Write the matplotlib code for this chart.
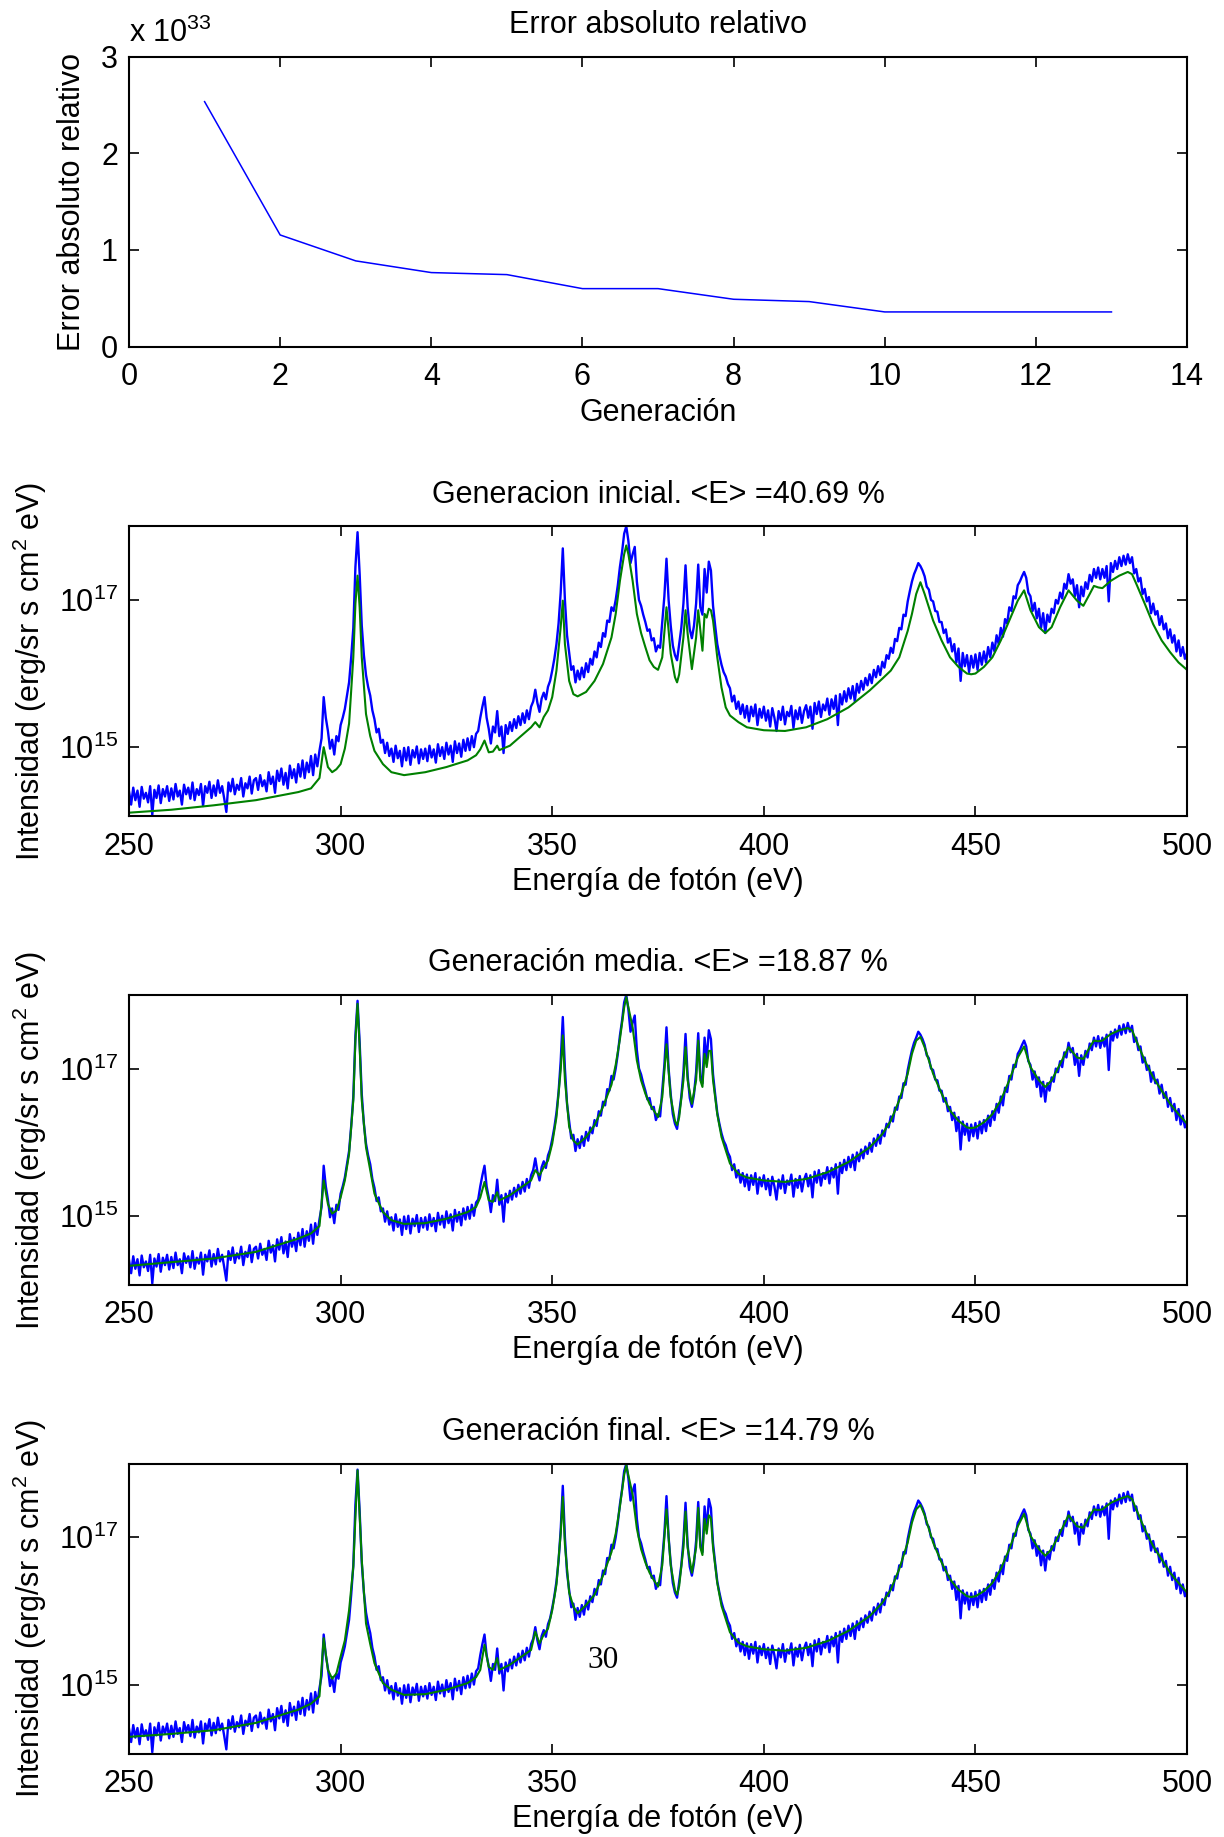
import numpy as np
import matplotlib
matplotlib.use('Agg')
import matplotlib.pyplot as plt
from matplotlib.ticker import NullLocator

plt.rcParams['font.family'] = ['Liberation Sans', 'DejaVu Sans']
plt.rcParams['mathtext.fontset'] = 'custom'
plt.rcParams['mathtext.rm'] = 'Liberation Sans'
plt.rcParams['mathtext.default'] = 'regular'
plt.rcParams['font.size'] = 22

# --- panel superior: error por generacion (en unidades de 1e33) ---
generaciones = list(range(1, 14))
error_rel = [2.534, 1.155, 0.887, 0.766, 0.745, 0.600, 0.600,
             0.490, 0.466, 0.359, 0.359, 0.359, 0.359]

# --- espectro observado, log10(I), paso 0.5 eV de 250 a 500 eV ---
e_obs = np.arange(250, 500.25, 0.5)
log_obs = [
    14.40, 14.22, 14.45, 14.28, 14.41, 14.19, 14.46, 14.30, 14.38, 14.25,
    14.47, 14.08, 14.42, 14.31, 14.48, 14.24, 14.43, 14.33, 14.47, 14.27,
    14.44, 14.29, 14.50, 14.33, 14.41, 14.22, 14.49, 14.36, 14.45, 14.30,
    14.52, 14.28, 14.43, 14.35, 14.50, 14.20, 14.47, 14.38, 14.53, 14.31,
    14.48, 14.34, 14.55, 14.38, 14.47, 14.30, 14.12, 14.52, 14.40, 14.57,
    14.36, 14.49, 14.42, 14.58, 14.33, 14.51, 14.44, 14.60, 14.37, 14.55,
    14.58, 14.42, 14.62, 14.47, 14.55, 14.40, 14.66, 14.50, 14.60, 14.38,
    14.68, 14.54, 14.71, 14.49, 14.65, 14.44, 14.75, 14.58, 14.70, 14.52,
    14.77, 14.60, 14.82, 14.58, 14.79, 14.66, 14.88, 14.62, 14.90, 14.74,
    14.95, 15.12, 15.68, 15.40, 15.22, 14.98, 15.10, 14.90, 15.15, 15.08,
    15.30, 15.40, 15.52, 15.70, 15.88, 16.22, 16.62, 17.45, 17.92, 17.35,
    16.65, 16.25, 15.98, 15.82, 15.70, 15.50, 15.38, 15.20, 15.25, 15.06,
    15.10, 14.92, 15.06, 14.88, 14.98, 14.80, 15.02, 14.85, 14.95, 14.74,
    14.99, 14.82, 15.00, 14.76, 14.96, 14.86, 15.01, 14.78, 14.97, 14.84,
    14.98, 14.81, 15.02, 14.86, 14.97, 14.79, 15.04, 14.88, 15.00, 14.84,
    15.06, 14.90, 15.02, 14.80, 15.08, 14.92, 15.05, 14.87, 15.10, 14.95,
    15.12, 14.96, 15.15, 15.00, 15.18, 15.22, 15.40, 15.55, 15.68, 15.40,
    15.25, 15.05, 15.28, 15.20, 15.49, 15.15, 15.28, 14.92, 15.30, 15.18,
    15.34, 15.22, 15.38, 15.26, 15.42, 15.30, 15.46, 15.33, 15.50, 15.38,
    15.55, 15.62, 15.78, 15.60, 15.48, 15.66, 15.74, 15.65, 15.82, 15.90,
    16.04, 16.20, 16.40, 16.68, 17.10, 17.70, 17.00, 16.52, 16.28, 16.05,
    16.10, 15.88, 16.04, 15.92, 16.08, 15.95, 16.14, 16.02, 16.20, 16.12,
    16.30, 16.22, 16.42, 16.36, 16.55, 16.50, 16.72, 16.70, 16.90, 16.85,
    17.00, 17.20, 17.45, 17.65, 17.90, 18.00, 17.80, 17.50, 17.62, 17.72,
    17.25, 17.00, 16.92, 16.80, 16.70, 16.58, 16.60, 16.45, 16.48, 16.30,
    16.38, 16.35, 16.70, 17.05, 17.56, 17.00, 16.65, 16.38, 16.25, 16.18,
    16.40, 16.62, 16.95, 17.47, 16.90, 16.60, 16.48, 16.65, 16.95, 17.48,
    16.90, 16.80, 17.42, 17.10, 17.52, 17.40, 16.92, 16.65, 16.40, 16.25,
    16.12, 16.02, 15.96, 15.86, 15.80, 15.62, 15.70, 15.52, 15.62, 15.45,
    15.58, 15.40, 15.56, 15.35, 15.55, 15.42, 15.58, 15.30, 15.52, 15.40,
    15.55, 15.36, 15.50, 15.28, 15.53, 15.40, 15.22, 15.49, 15.37, 15.55,
    15.31, 15.48, 15.42, 15.56, 15.26, 15.50, 15.38, 15.54, 15.33, 15.49,
    15.57, 15.40, 15.55, 15.25, 15.60, 15.45, 15.62, 15.41, 15.58, 15.50,
    15.66, 15.44, 15.65, 15.52, 15.70, 15.30, 15.72, 15.58, 15.76, 15.62,
    15.80, 15.66, 15.83, 15.62, 15.86, 15.74, 15.90, 15.78, 15.94, 15.84,
    15.99, 15.87, 16.05, 15.95, 16.10, 15.98, 16.16, 16.08, 16.25, 16.20,
    16.35, 16.28, 16.47, 16.44, 16.62, 16.60, 16.80, 16.78, 16.98, 17.12,
    17.25, 17.35, 17.42, 17.50, 17.46, 17.40, 17.32, 17.18, 17.14, 17.00,
    16.98, 16.85, 16.84, 16.70, 16.70, 16.55, 16.60, 16.42, 16.48, 16.30,
    16.40, 16.15, 16.34, 15.90, 16.28, 16.10, 16.25, 16.02, 16.24, 16.08,
    16.26, 16.05, 16.28, 16.12, 16.30, 16.15, 16.36, 16.22, 16.42, 16.30,
    16.52, 16.40, 16.62, 16.50, 16.74, 16.68, 16.90, 16.85, 17.05, 17.02,
    17.20, 17.25, 17.32, 17.38, 17.30, 17.10, 17.05, 16.85, 16.96, 16.75,
    16.88, 16.62, 16.82, 16.55, 16.80, 16.70, 16.88, 16.82, 17.00, 16.95,
    17.10, 17.02, 17.22, 17.15, 17.35, 17.22, 17.28, 17.05, 17.20, 16.90,
    17.18, 17.05, 17.24, 17.15, 17.34, 17.25, 17.42, 17.30, 17.44, 17.28,
    17.42, 17.30, 17.46, 16.98, 17.50, 17.38, 17.53, 17.42, 17.58, 17.46,
    17.60, 17.48, 17.62, 17.50, 17.58, 17.36, 17.42, 17.25, 17.30, 17.08,
    17.15, 16.98, 17.04, 16.82, 16.95, 16.80, 16.85, 16.66, 16.78, 16.60,
    16.68, 16.48, 16.60, 16.42, 16.52, 16.30, 16.45, 16.24, 16.36, 16.20,
    16.28,
]

# --- espectros modelo (log10 I) en energias de control ---
e_mod = [
    250, 260, 270, 280, 290, 293, 295, 296, 297, 298,
    299, 300, 301, 302, 303, 303.5, 304, 304.5, 305, 306,
    307, 308, 310, 312, 315, 320, 325, 330, 332, 333,
    334, 335, 336, 337, 337.5, 340, 345, 346, 347, 348,
    349, 350, 351, 352, 352.5, 353, 354, 355, 356, 358,
    360, 362, 364, 365, 366, 367, 367.5, 368, 369, 370,
    371, 372, 373, 374, 375, 376, 377, 378, 379, 379.5,
    380, 381, 381.5, 382, 383, 384, 384.5, 385, 385.5, 386,
    386.5, 387, 387.5, 388, 389, 390, 391, 392, 394, 396,
    400, 405, 410, 415, 420, 425, 428, 430, 432, 434,
    435, 436, 437, 438, 440, 442, 444, 446, 448, 449,
    450, 452, 454, 456, 458, 460, 461.5, 463, 465, 466.5,
    468, 470, 472, 474, 475.5, 477, 478, 479, 480, 482,
    484, 486, 487, 488, 490, 492, 494, 496, 498, 500,
]
log_ini = [
    14.11, 14.15, 14.21, 14.28, 14.39, 14.44, 14.58, 15.00, 14.73, 14.66,
    14.70, 14.77, 14.98, 15.32, 16.22, 16.95, 17.33, 16.90, 16.22, 15.45,
    15.15, 14.95, 14.77, 14.66, 14.62, 14.66, 14.73, 14.82, 14.89, 14.97,
    15.09, 14.93, 14.94, 15.02, 14.96, 15.02, 15.27, 15.34, 15.27, 15.41,
    15.50, 15.68, 16.04, 16.63, 16.99, 16.40, 15.90, 15.72, 15.69, 15.75,
    15.90, 16.13, 16.49, 16.81, 17.26, 17.62, 17.74, 17.62, 17.26, 16.81,
    16.55, 16.36, 16.18, 16.09, 16.05, 16.22, 16.90, 16.27, 15.95, 15.88,
    15.99, 16.49, 16.86, 16.54, 16.06, 16.49, 16.86, 16.58, 16.31, 16.81,
    16.76, 16.88, 16.86, 16.72, 16.22, 15.81, 15.54, 15.43, 15.34, 15.27,
    15.23, 15.22, 15.27, 15.38, 15.54, 15.77, 15.93, 16.04, 16.22, 16.58,
    16.81, 17.08, 17.24, 17.08, 16.72, 16.45, 16.22, 16.09, 16.00, 15.99,
    16.00, 16.09, 16.22, 16.45, 16.72, 16.99, 17.13, 16.86, 16.63, 16.55,
    16.63, 16.90, 17.13, 16.99, 16.92, 17.08, 17.19, 17.17, 17.16, 17.26,
    17.33, 17.38, 17.35, 17.22, 16.95, 16.67, 16.45, 16.29, 16.15, 16.05,
]
log_med = [
    14.32, 14.37, 14.42, 14.51, 14.69, 14.76, 14.86, 15.48, 15.16, 15.03,
    15.07, 15.25, 15.48, 15.84, 16.57, 17.39, 17.88, 17.29, 16.57, 15.93,
    15.62, 15.30, 15.05, 14.94, 14.89, 14.90, 14.96, 15.05, 15.12, 15.25,
    15.46, 15.21, 15.19, 15.32, 15.21, 15.28, 15.48, 15.62, 15.55, 15.66,
    15.75, 15.98, 16.34, 16.98, 17.45, 16.85, 16.21, 16.02, 15.97, 16.07,
    16.23, 16.48, 16.78, 17.05, 17.40, 17.83, 17.97, 17.83, 17.56, 17.11,
    16.84, 16.66, 16.52, 16.43, 16.34, 16.61, 17.33, 16.61, 16.29, 16.23,
    16.34, 16.84, 17.29, 16.84, 16.52, 16.84, 17.38, 16.84, 16.75, 17.20,
    17.02, 17.24, 17.24, 16.84, 16.38, 16.07, 15.89, 15.71, 15.57, 15.52,
    15.48, 15.46, 15.50, 15.59, 15.73, 15.93, 16.11, 16.29, 16.57, 16.93,
    17.20, 17.38, 17.43, 17.29, 16.93, 16.66, 16.43, 16.29, 16.20, 16.19,
    16.20, 16.27, 16.38, 16.57, 16.84, 17.15, 17.30, 17.02, 16.84, 16.75,
    16.84, 17.06, 17.29, 17.15, 17.13, 17.29, 17.38, 17.37, 17.38, 17.47,
    17.52, 17.55, 17.52, 17.38, 17.11, 16.88, 16.70, 16.52, 16.38, 16.25,
]
log_fin = [
    14.29, 14.33, 14.38, 14.48, 14.66, 14.74, 14.84, 15.63, 15.20, 15.08,
    15.15, 15.38, 15.60, 16.01, 16.60, 17.28, 17.91, 17.30, 16.69, 15.83,
    15.55, 15.29, 15.02, 14.93, 14.86, 14.87, 14.93, 15.02, 15.10, 15.20,
    15.54, 15.24, 15.20, 15.36, 15.20, 15.27, 15.47, 15.72, 15.56, 15.68,
    15.76, 16.01, 16.36, 17.05, 17.55, 16.90, 16.25, 16.06, 15.97, 16.08,
    16.22, 16.48, 16.80, 17.05, 17.42, 17.85, 17.98, 17.84, 17.58, 17.12,
    16.84, 16.66, 16.52, 16.42, 16.33, 16.62, 17.38, 16.62, 16.28, 16.22,
    16.34, 16.86, 17.35, 16.86, 16.52, 16.86, 17.40, 16.86, 16.76, 17.25,
    17.05, 17.30, 17.26, 16.86, 16.38, 16.07, 15.89, 15.71, 15.57, 15.52,
    15.48, 15.46, 15.50, 15.59, 15.73, 15.93, 16.11, 16.29, 16.57, 16.93,
    17.20, 17.38, 17.44, 17.30, 16.93, 16.66, 16.43, 16.29, 16.20, 16.19,
    16.20, 16.27, 16.38, 16.57, 16.84, 17.15, 17.32, 17.02, 16.84, 16.75,
    16.84, 17.06, 17.30, 17.15, 17.13, 17.29, 17.38, 17.37, 17.38, 17.47,
    17.52, 17.56, 17.52, 17.38, 17.11, 16.88, 16.70, 16.52, 16.38, 16.25,
]

titulos = ['Generacion inicial. <E> =40.69 %',
           'Generación media. <E> =18.87 %',
           'Generación final. <E> =14.79 %']
modelos = [log_ini, log_med, log_fin]

AZUL = (0, 0, 1)
VERDE = (0, 0.5, 0)
FS = 22


def estilo_ejes(ax):
    for s in ax.spines.values():
        s.set_linewidth(1.5)
    ax.tick_params(which='both', direction='in', top=True, right=True,
                   length=7, width=1.2, labelsize=FS)
    ax.tick_params(axis='x', pad=11)
    ax.tick_params(axis='y', pad=8)


def panel_espectro(ax, log_modelo, titulo):
    ax.semilogy(e_obs, 10.0 ** np.array(log_obs), color=AZUL, lw=1.7)
    ax.semilogy(e_mod, 10.0 ** np.array(log_modelo), color=VERDE, lw=1.5)
    ax.set_xlim(250, 500)
    ax.set_ylim(10 ** 14.06, 10 ** 18.0)
    ax.set_xticks([250, 300, 350, 400, 450, 500])
    ax.set_yticks([1e15, 1e17])
    ax.yaxis.set_minor_locator(NullLocator())
    estilo_ejes(ax)
    ax.set_title(titulo, fontsize=FS, pad=17)
    ax.set_xlabel('Energía de fotón (eV)', fontsize=FS, labelpad=3.5)
    ax.set_ylabel('Intensidad (erg/sr s cm$^2$ eV)', fontsize=FS, labelpad=7)


fig = plt.figure(figsize=(12.24, 18.37), dpi=100)
izq, ancho, alto = 0.1054, 0.8644, 0.1579
bases = [0.8113, 0.5556, 0.3005, 0.0453]

ax0 = fig.add_axes([izq, bases[0], ancho, alto])
ax0.plot(generaciones, error_rel, color=AZUL, lw=1.1)
ax0.set_xlim(0, 14)
ax0.set_ylim(0, 3)
ax0.set_xticks(range(0, 15, 2))
ax0.set_yticks([0, 1, 2, 3])
estilo_ejes(ax0)
ax0.set_title('Error absoluto relativo', fontsize=FS, pad=17)
ax0.set_xlabel('Generación', fontsize=FS, labelpad=4.5)
ax0.set_ylabel('Error absoluto relativo', fontsize=FS, labelpad=10)
ax0.text(0.0, 1.049, 'x 10$^{33}$', transform=ax0.transAxes,
         ha='left', va='baseline', fontsize=FS)

for i in range(3):
    ax = fig.add_axes([izq, bases[i + 1], ancho, alto])
    panel_espectro(ax, modelos[i], titulos[i])

fig.text(603 / 1224, 1 - 1661 / 1837, '30', family='Liberation Serif',
         fontsize=22.5, ha='center', va='center')

fig.savefig('out.png', dpi=100)
plt.close(fig)
